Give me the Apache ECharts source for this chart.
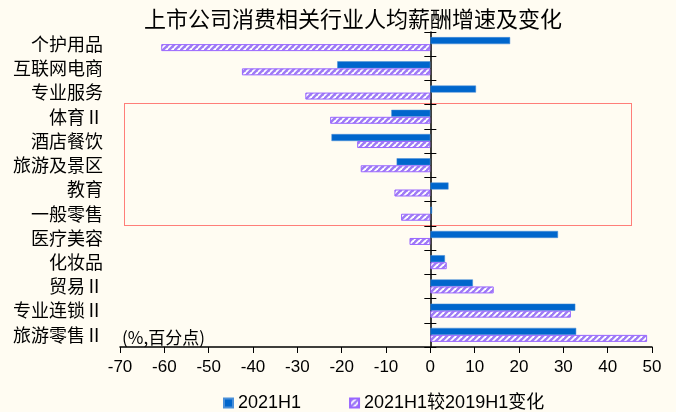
<!DOCTYPE html>
<html>
<head>
<meta charset="utf-8">
<script src="https://cdn.jsdelivr.net/npm/echarts@6/dist/echarts.min.js"></script>
<style>
html,body{margin:0;padding:0;background:#FFFCF2;}
#c{width:676px;height:412px;}
</style>
</head>
<body>
<div id="c"></div>
<script>
const categories = ['个护用品','互联网电商','专业服务','体育Ⅱ','酒店餐饮','旅游及景区','教育','一般零售','医疗美容','化妆品','贸易Ⅱ','专业连锁Ⅱ','旅游零售Ⅱ'];
const seriesNames = ['2021H1','2021H1较2019H1变化'];
const growth2021H1 = [18, -21, 10.3, -8.8, -22.3, -7.6, 4.1, 0.4, 28.8, 3.3, 9.6, 32.7, 32.9];
const changeVs2019H1 = [-60.7, -42.5, -28.2, -22.6, -16.5, -15.7, -8.1, -6.6, -4.7, 3.7, 14.3, 31.7, 48.9];
const xTicks = {min: -70, max: 50, interval: 10};

const CJK = '"Noto Sans CJK SC", sans-serif';
const LAT = '"Liberation Sans", Arial, sans-serif';

const GRID = {left: 120, right: 24, top: 32, bottom: 65};
const gridWidth = 676 - GRID.left - GRID.right;
// shift of the zero line from the grid's left edge, through the x scale
const zeroShift = (0 - xTicks.min) / (xTicks.max - xTicks.min) * gridWidth;

function hatch() {
  const s = 6;
  const cv = document.createElement('canvas');
  cv.width = s; cv.height = s;
  const g = cv.getContext('2d');
  g.fillStyle = '#9E7BF5';
  g.fillRect(0, 0, s, s);
  g.strokeStyle = '#FFFFFF';
  g.lineWidth = 1.8;
  for (let k = -s; k <= 2 * s; k += s) {
    g.beginPath();
    g.moveTo(k - s, s);
    g.lineTo(k + s, -s);
    g.stroke();
  }
  return cv;
}
const pattern = {image: hatch(), repeat: 'repeat'};

const chart = echarts.init(document.getElementById('c'), null, {renderer: 'canvas'});
chart.setOption({
  backgroundColor: '#FFFCF2',
  animation: false,
  title: {
    text: '上市公司消费相关行业人均薪酬增速及变化',
    left: 348, textAlign: 'center', top: 3,
    textStyle: {fontFamily: CJK, fontSize: 22, fontWeight: 'normal', color: '#000'}
  },
  legend: {
    left: 218, top: 389,
    itemWidth: 9, itemHeight: 9, itemGap: 48, itemSpacing: 3,
    textStyle: {fontFamily: LAT + ',' + CJK, fontSize: 18, color: '#000'},
    data: [
      {name: seriesNames[0], icon: 'rect'},
      {name: seriesNames[1], icon: 'rect'}
    ]
  },
  grid: {left: GRID.left, right: GRID.right, top: GRID.top, bottom: GRID.bottom, containLabel: false, outerBoundsMode: 'none'},
  xAxis: {
    type: 'value', min: xTicks.min, max: xTicks.max, interval: xTicks.interval,
    axisLine: {show: true, onZero: false, lineStyle: {color: '#000', width: 1.5}},
    axisTick: {show: true, length: 6, lineStyle: {color: '#000'}},
    axisLabel: {fontFamily: LAT, fontSize: 17, color: '#000', margin: 12},
    splitLine: {show: false}
  },
  yAxis: [
    {
      type: 'category', data: categories, inverse: true, position: 'left',
      axisLine: {show: false, onZero: false},
      axisTick: {show: false},
      axisLabel: {fontFamily: CJK, fontSize: 18, color: '#000', margin: 17}
    },
    {
      type: 'category', data: categories, inverse: true, position: 'left', offset: -zeroShift,
      axisLine: {show: true, onZero: false, lineStyle: {color: '#000', width: 1.5}},
      axisTick: {show: true, inside: false, length: 6, lineStyle: {color: '#000'}},
      axisLabel: {show: false}
    },
    {
      type: 'category', data: categories, inverse: true, position: 'left', offset: -zeroShift,
      axisLine: {show: false, onZero: false},
      axisTick: {show: true, inside: true, length: 6, lineStyle: {color: '#000'}},
      axisLabel: {show: false}
    }
  ],
  series: [
    {
      name: seriesNames[0], type: 'bar', yAxisIndex: 0, data: growth2021H1,
      barWidth: 7, barGap: '0%',
      itemStyle: {color: '#0066CC', borderColor: '#4A8FD8', borderWidth: 0.5}
    },
    {
      name: seriesNames[1], type: 'bar', yAxisIndex: 0, data: changeVs2019H1,
      barWidth: 7, barGap: '0%',
      itemStyle: {color: pattern, borderColor: '#9966FF', borderWidth: 1}
    }
  ],
  graphic: [
    {
      type: 'rect', left: 122, top: 101, silent: true,
      shape: {width: 507, height: 122},
      style: {fill: 'none', stroke: '#FF0000', lineWidth: 1, lineDash: [1, 1]}
    },
    {
      type: 'text', left: 122, top: 329, silent: true,
      style: {text: '(%,百分点)', fill: '#000', font: '17px ' + CJK}
    }
  ]
});
</script>
</body>
</html>
